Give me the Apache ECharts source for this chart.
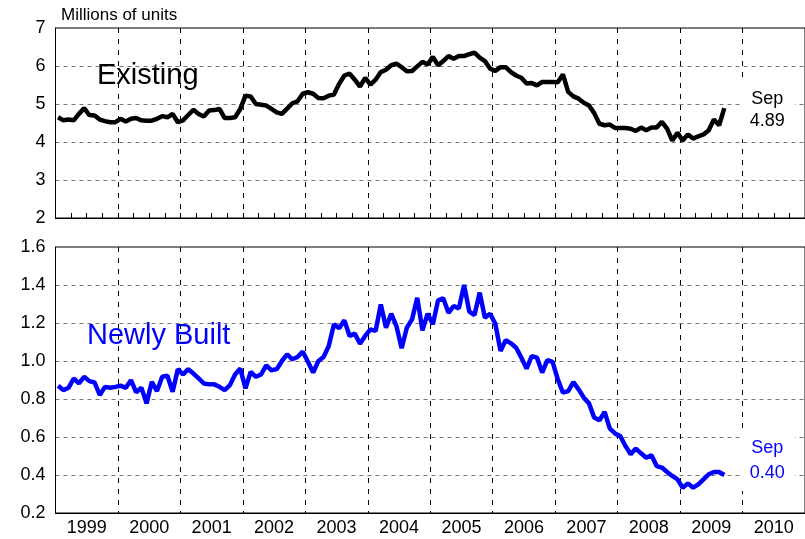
<!DOCTYPE html>
<html>
<head>
<meta charset="utf-8">
<script src="https://cdn.jsdelivr.net/npm/echarts@6/dist/echarts.min.js"></script>
<style>
html,body{margin:0;padding:0;background:#fff;}
#chart{width:805px;height:539px;}
</style>
</head>
<body>
<div id="chart"></div>
<script>
// ---- Data ----
const startYear = 1999;
const years = ['1999','2000','2001','2002','2003','2004','2005','2006','2007','2008','2009','2010'];
const monthNames = ['Jan','Feb','Mar','Apr','May','Jun','Jul','Aug','Sep','Oct','Nov','Dec'];
const topTicks = [2, 3, 4, 5, 6, 7];
const bottomTicks = [0.2, 0.4, 0.6, 0.8, 1.0, 1.2, 1.4, 1.6];
// Existing home sales, millions of units, monthly Jan 1999 - Sep 2009
const existing = [
  4.65, 4.57, 4.59, 4.57, 4.74, 4.89, 4.71, 4.70, 4.59, 4.55, 4.52, 4.52,
  4.61, 4.54, 4.61, 4.63, 4.57, 4.56, 4.56, 4.61, 4.68, 4.65, 4.74, 4.52,
  4.57, 4.71, 4.85, 4.74, 4.67, 4.83, 4.84, 4.87, 4.63, 4.63, 4.65, 4.87,
  5.22, 5.20, 5.00, 4.98, 4.96, 4.87, 4.78, 4.74, 4.88, 5.02, 5.07, 5.27,
  5.31, 5.27, 5.16, 5.15, 5.22, 5.25, 5.53, 5.75, 5.80, 5.64, 5.46, 5.69,
  5.51, 5.64, 5.84, 5.90, 6.02, 6.06, 5.97, 5.86, 5.87, 5.99, 6.11, 6.04,
  6.24, 6.02, 6.13, 6.26, 6.19, 6.26, 6.26, 6.31, 6.35, 6.22, 6.13, 5.93,
  5.87, 5.97, 5.97, 5.84, 5.75, 5.69, 5.54, 5.55, 5.49, 5.58, 5.58, 5.58,
  5.57, 5.78, 5.32, 5.20, 5.14, 5.03, 4.96, 4.76, 4.48, 4.44, 4.46, 4.37,
  4.37, 4.37, 4.35, 4.29, 4.38, 4.31, 4.38, 4.38, 4.53, 4.35, 4.04, 4.24,
  4.04, 4.20, 4.09, 4.15, 4.20, 4.31, 4.59, 4.44, 4.89
];
// Newly built home sales, millions of units, monthly Jan 1999 - Sep 2009
const newlyBuilt = [
  0.870, 0.847, 0.859, 0.908, 0.882, 0.917, 0.894, 0.887, 0.821, 0.864, 0.859, 0.864,
  0.870, 0.859, 0.899, 0.835, 0.859, 0.777, 0.890, 0.842, 0.917, 0.922, 0.838, 0.957,
  0.929, 0.957, 0.934, 0.908, 0.882, 0.877, 0.877, 0.864, 0.847, 0.873, 0.929, 0.960,
  0.856, 0.943, 0.917, 0.929, 0.977, 0.951, 0.957, 1.000, 1.035, 1.009, 1.021, 1.049,
  0.996, 0.939, 1.000, 1.021, 1.079, 1.193, 1.172, 1.214, 1.132, 1.144, 1.091, 1.132,
  1.167, 1.158, 1.298, 1.175, 1.249, 1.184, 1.067, 1.175, 1.219, 1.333, 1.161, 1.249,
  1.193, 1.319, 1.330, 1.254, 1.289, 1.277, 1.400, 1.260, 1.242, 1.360, 1.228, 1.249,
  1.196, 1.053, 1.110, 1.093, 1.070, 1.018, 0.960, 1.026, 1.018, 0.939, 1.005, 0.995,
  0.904, 0.833, 0.842, 0.889, 0.851, 0.807, 0.777, 0.702, 0.688, 0.732, 0.644, 0.619,
  0.605, 0.553, 0.509, 0.539, 0.514, 0.491, 0.504, 0.447, 0.439, 0.416, 0.395, 0.377,
  0.333, 0.356, 0.333, 0.351, 0.377, 0.404, 0.416, 0.416, 0.400
];

// ---- Build chart ----
const FONT = "'Liberation Sans', Arial, sans-serif";
const toXY = arr => arr.map((v, i) => [startYear + (i + 0.5) / 12, v]);
const endFmt = digits => p => monthNames[p.dataIndex % 12] + '\n' + p.value[1].toFixed(digits);

function timeAxis(gi, withTicks) {
  return {
    type: 'value', gridIndex: gi, min: startYear, max: startYear + years.length, interval: 1,
    axisLabel: { show: false },
    axisLine: { show: true, onZero: false, lineStyle: { color: '#000', width: 1 } },
    axisTick: { show: withTicks, inside: true, length: 5, lineStyle: { color: '#000' } },
    minorTick: { show: withTicks, splitNumber: 4, length: 5, lineStyle: { color: '#000' } },
    splitLine: { show: true, lineStyle: { color: '#000', width: 1, type: [5, 6] } }
  };
}
function valAxis(gi, ticks, digits) {
  return {
    type: 'value', gridIndex: gi, min: ticks[0], max: ticks[ticks.length - 1],
    interval: +(ticks[1] - ticks[0]).toFixed(2),
    axisLine: { show: true, lineStyle: { color: '#000' } },
    axisTick: { show: false },
    axisLabel: { color: '#000', fontSize: 18, fontFamily: FONT, margin: 10,
      formatter: v => (+v).toFixed(digits) },
    splitLine: { show: true, lineStyle: { color: '#777', width: 1, type: [4, 4] } }
  };
}

const chart = echarts.init(document.getElementById('chart'), null, { renderer: 'canvas' });
chart.setOption({
  animation: false,
  backgroundColor: '#fff',
  title: {
    text: 'Millions of units', left: 56, top: 2,
    textStyle: { fontFamily: FONT, fontSize: 17, fontWeight: 'normal', color: '#000' }
  },
  grid: [
    { left: 55.5, right: -3, top: 28, height: 190, show: true, borderColor: '#000', borderWidth: 1 },
    { left: 55.5, right: -3, top: 247, height: 266, show: true, borderColor: '#000', borderWidth: 1 }
  ],
  xAxis: [
    timeAxis(0, true),
    timeAxis(1, false),
    {
      type: 'category', gridIndex: 1, position: 'bottom', data: years, boundaryGap: true,
      axisLine: { show: false }, axisTick: { show: false }, splitLine: { show: false },
      axisLabel: { color: '#000', fontSize: 18, fontFamily: FONT, margin: 6, interval: 0 }
    }
  ],
  yAxis: [valAxis(0, topTicks, 0), valAxis(1, bottomTicks, 1)],
  graphic: [
    { type: 'text', left: 97, top: 61, style: { text: 'Existing', font: '29px ' + FONT, fill: '#000' } },
    { type: 'text', left: 87, top: 321, style: { text: 'Newly Built', font: '29px ' + FONT, fill: '#0000ff' } }
  ],
  series: [
    {
      type: 'line', xAxisIndex: 0, yAxisIndex: 0, data: toXY(existing),
      showSymbol: false, symbol: 'none', lineStyle: { color: '#000', width: 4.5 },
      endLabel: {
        show: true, formatter: endFmt(2), distance: 0, align: 'center', verticalAlign: 'middle',
        offset: [43, 2], color: '#000', fontSize: 18, fontFamily: FONT, lineHeight: 22,
        backgroundColor: '#fff', padding: [7, 10]
      }
    },
    {
      type: 'line', xAxisIndex: 1, yAxisIndex: 1, data: toXY(newlyBuilt),
      showSymbol: false, symbol: 'none', lineStyle: { color: '#0000ff', width: 4.5 },
      endLabel: {
        show: true, formatter: endFmt(2), distance: 0, align: 'center', verticalAlign: 'middle',
        offset: [43, -14], color: '#0000ff', fontSize: 18, fontFamily: FONT, lineHeight: 25,
        backgroundColor: '#fff', padding: [5, 10]
      }
    }
  ]
});
</script>
</body>
</html>
